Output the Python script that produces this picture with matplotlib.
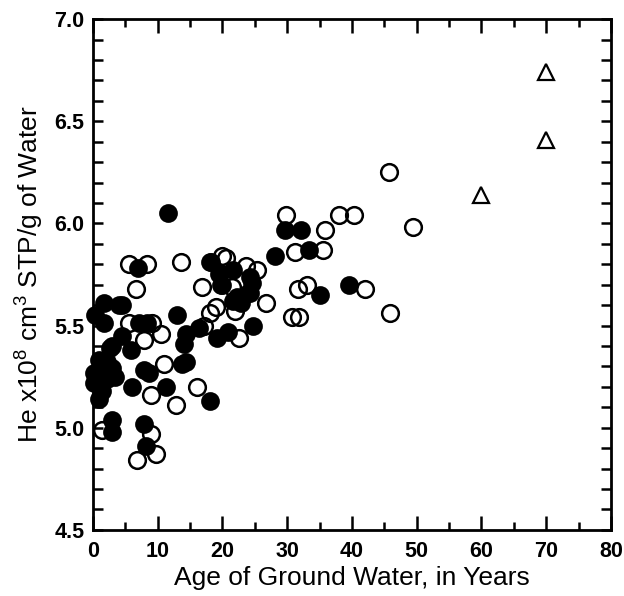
import matplotlib.pyplot as plt
from matplotlib.ticker import MultipleLocator

plt.rcParams['font.family'] = ['Liberation Sans', 'DejaVu Sans']
plt.rcParams['mathtext.fontset'] = 'custom'
plt.rcParams['mathtext.rm'] = 'Liberation Sans'

# --- filled circles (age, He) ---
filled_age = [11.6, 29.6, 32.1, 28.1, 33.3, 35.0, 39.5, 18.3, 21.6, 19.5,
              24.2, 20.0, 24.2, 21.6, 22.9, 19.8, 22.3, 23.9, 24.5, 16.4,
              19.2, 20.8, 24.7, 14.4, 14.3, 7.0, 18.0, 4.5, 13.0, 1.7,
              4.0, 0.3, 1.7, 7.1, 8.4, 4.5, 2.9, 5.9, 2.6, 14.1,
              2.2, 0.2, 7.9, 8.7, 13.8, 6.0, 11.3, 1.4, 0.9, 0.2,
              3.4, 2.9, 2.9, 7.9, 8.2, 18.0, 1.0, 2.2, 3.0, 0.6]
filled_he = [6.05, 5.97, 5.97, 5.84, 5.87, 5.65, 5.70, 5.81, 5.77, 5.75,
             5.74, 5.70, 5.66, 5.62, 5.61, 5.70, 5.64, 5.66, 5.71, 5.49,
             5.44, 5.47, 5.50, 5.46, 5.32, 5.78, 5.81, 5.60, 5.55, 5.61,
             5.60, 5.55, 5.51, 5.51, 5.51, 5.45, 5.40, 5.38, 5.39, 5.41,
             5.32, 5.27, 5.28, 5.27, 5.31, 5.20, 5.20, 5.18, 5.14, 5.22,
             5.25, 5.04, 4.98, 5.02, 4.91, 5.13, 5.33, 5.24, 5.29, 5.26]

# --- open circles ---
open_age = [45.7, 29.8, 35.8, 38.0, 40.3, 49.5, 31.2, 35.5, 20.6, 23.7,
            25.3, 16.9, 26.8, 31.6, 33.0, 42.0, 45.9, 31.9, 19.0, 18.0,
            13.6, 5.6, 8.4, 6.7, 21.4, 21.9, 22.6, 17.2, 16.1, 5.6,
            9.1, 10.5, 7.9, 11.0, 9.0, 12.9, 1.4, 9.0, 9.8, 6.8,
            30.7, 20.0]
open_he = [6.25, 6.04, 5.97, 6.04, 6.04, 5.98, 5.86, 5.87, 5.83, 5.79,
           5.77, 5.69, 5.61, 5.68, 5.70, 5.68, 5.56, 5.54, 5.59, 5.56,
           5.81, 5.80, 5.80, 5.68, 5.69, 5.57, 5.44, 5.50, 5.20, 5.51,
           5.51, 5.46, 5.43, 5.31, 5.16, 5.11, 4.99, 4.97, 4.87, 4.84,
           5.54, 5.84]

# --- open triangles ---
tri_age = [60, 70, 70]
tri_he = [6.14, 6.41, 6.74]

fig = plt.figure(figsize=(6.24, 5.96), dpi=100)
ax = fig.add_axes([0.149, 0.111, 0.830, 0.857])

ax.plot(filled_age, filled_he, 'o', ms=12, mfc='black', mec='black', mew=1.5,
        ls='none', clip_on=False)
ax.plot(open_age, open_he, 'o', ms=12, mfc='none', mec='black', mew=1.8,
        ls='none', clip_on=False)
ax.plot(tri_age, tri_he, '^', ms=11, mfc='none', mec='black', mew=1.6,
        ls='none')

ax.set_xlim(0, 80)
ax.set_ylim(4.5, 7.0)
ax.xaxis.set_major_locator(MultipleLocator(10))
ax.xaxis.set_minor_locator(MultipleLocator(5))
ax.yaxis.set_major_locator(MultipleLocator(0.5))
ax.yaxis.set_minor_locator(MultipleLocator(0.1))
ax.yaxis.set_major_formatter(plt.FormatStrFormatter('%.1f'))

ax.tick_params(which='both', direction='in', top=True, right=True, width=1.8)
ax.tick_params(axis='x', which='major', length=10)
ax.tick_params(axis='x', which='minor', length=6)
ax.tick_params(axis='y', which='both', length=7)
ax.tick_params(labelsize=15.5)
ax.tick_params(axis='x', pad=8)
ax.tick_params(axis='y', pad=6)
for lab in ax.get_xticklabels() + ax.get_yticklabels():
    lab.set_fontweight('bold')
for sp in ax.spines.values():
    sp.set_linewidth(2)

ax.set_xlabel('Age of Ground Water, in Years', fontsize=19, labelpad=3)
ax.set_ylabel(r'He x10$\mathregular{^8}$ cm$\mathregular{^3}$ STP/g of Water',
              fontsize=19, labelpad=6)

fig.savefig('out.png', dpi=100)
